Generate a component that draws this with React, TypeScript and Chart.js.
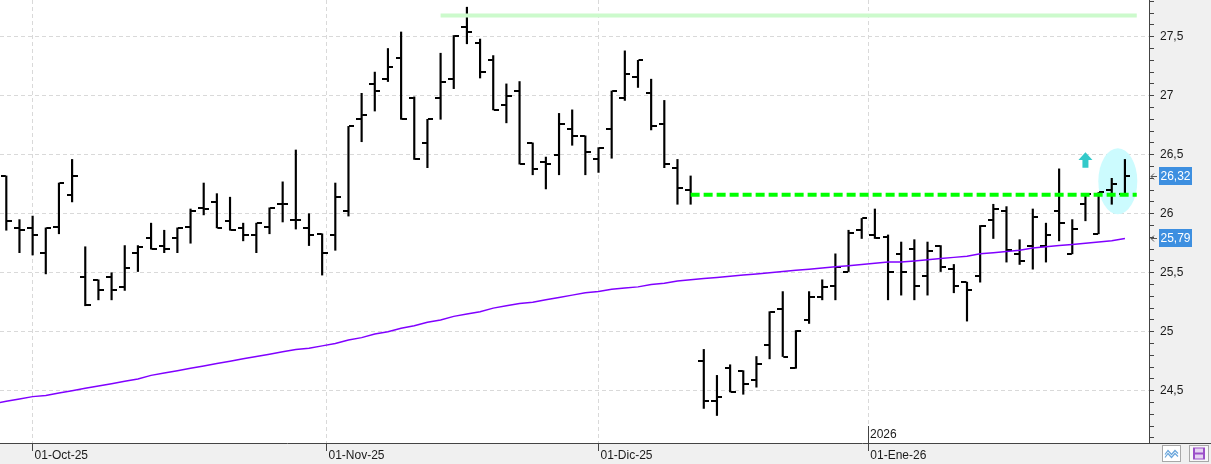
import React, { useEffect, useRef } from 'react';
import { Chart, registerables } from 'chart.js';

Chart.register(...registerables);

// ---- Data (bar index 0 = 29-Sep-25) ----
const opens = [26.32, 25.88, 25.88, 25.67, 25.89, 26.16, 25.46, 25.44, 25.46, 25.38,
  25.67, 25.79, 25.73, 25.79, 25.89, 26.05, 26.10, 25.94, 25.88, 25.82,
  25.89, 26.08, 25.95, 25.88, 25.83, 25.82, 26.02, 26.80, 27.10, 27.14,
  27.32, 26.98, 26.60, 26.98, 27.14, 27.58, 27.45, 27.30, 26.92, 27.04,
  26.60, 26.44, 26.50, 26.72, 26.66, 26.46, 26.72, 26.98, 27.16, 27.02,
  26.76, 26.39, 26.20, 24.75, 24.41, 24.69, 24.67, 24.59, 24.89, 25.19,
  24.69, 25.10, 25.29, 25.39, 25.51, 25.86, 25.82, 25.80, 25.66, 25.70,
  25.47, 25.73, 25.53, 25.42, 25.47, 25.95, 26.02, 25.66, 25.73, 25.73,
  26.02, 25.66, 26.08, 25.83, 26.20, 26.17];

const highs = [26.32, 25.95, 25.98, 25.88, 26.26, 26.46, 25.72, 25.44, 25.50, 25.73,
  25.73, 25.92, 25.86, 25.88, 26.04, 26.26, 26.17, 26.14, 25.92, 25.92,
  26.05, 26.27, 26.54, 26.00, 25.83, 26.26, 26.74, 27.02, 27.20, 27.40,
  27.54, 26.99, 26.80, 27.36, 27.51, 27.75, 27.48, 27.34, 27.10, 27.12,
  26.60, 26.48, 26.85, 26.88, 26.66, 26.56, 27.04, 27.38, 27.30, 27.14,
  26.96, 26.46, 26.32, 24.85, 24.63, 24.72, 24.67, 24.79, 25.17, 25.34,
  25.01, 25.34, 25.44, 25.66, 25.86, 25.96, 26.04, 25.82, 25.76, 25.78,
  25.76, 25.73, 25.57, 25.42, 25.90, 26.08, 26.06, 25.78, 26.04, 25.92,
  26.38, 25.95, 26.17, 26.18, 26.30, 26.46];

const lows = [25.86, 25.67, 25.65, 25.49, 25.83, 26.10, 25.22, 25.27, 25.27, 25.35,
  25.51, 25.70, 25.67, 25.67, 25.75, 25.99, 25.88, 25.86, 25.77, 25.67,
  25.83, 25.93, 25.87, 25.73, 25.48, 25.69, 25.98, 26.61, 26.87, 27.12,
  26.80, 26.46, 26.39, 26.80, 27.06, 27.44, 27.15, 26.88, 26.77, 26.42,
  26.33, 26.21, 26.33, 26.58, 26.33, 26.35, 26.47, 26.96, 27.07, 26.71,
  26.39, 26.08, 26.08, 24.35, 24.29, 24.49, 24.47, 24.53, 24.77, 24.79,
  24.69, 25.07, 25.27, 25.27, 25.51, 25.79, 25.79, 25.27, 25.31, 25.27,
  25.31, 25.51, 25.33, 25.09, 25.42, 25.79, 25.59, 25.57, 25.53, 25.59,
  25.77, 25.66, 25.94, 25.83, 26.08, 26.17];

const closes = [25.94, 25.86, 25.82, 25.88, 26.26, 26.32, 25.23, 25.35, 25.35, 25.54,
  25.72, 25.70, 25.70, 25.88, 26.02, 26.04, 25.88, 25.86, 25.82, 25.92,
  26.05, 26.08, 25.95, 25.82, 25.67, 26.14, 26.74, 26.84, 27.04, 27.24,
  26.80, 26.46, 26.80, 27.12, 27.51, 27.54, 27.20, 26.88, 27.00, 26.42,
  26.38, 26.42, 26.76, 26.66, 26.52, 26.56, 27.04, 27.18, 27.30, 26.74,
  26.42, 26.22, 26.16, 24.41, 24.45, 24.49, 24.56, 24.73, 25.17, 24.79,
  25.01, 25.29, 25.38, 25.55, 25.84, 25.96, 25.79, 25.51, 25.51, 25.39,
  25.68, 25.55, 25.39, 25.35, 25.90, 26.04, 25.69, 25.60, 25.97, 25.82,
  25.92, 25.87, 26.17, 26.18, 26.25, 26.32];

// moving average, first value belongs to bar index -1
const maValues = [24.39, 24.41, 24.43, 24.45, 24.46, 24.48, 24.50, 24.52, 24.54, 24.56, 24.58,
  24.60, 24.63, 24.65, 24.67, 24.69, 24.71, 24.73, 24.75, 24.77, 24.79,
  24.81, 24.83, 24.85, 24.86, 24.88, 24.90, 24.93, 24.95, 24.98, 25.00,
  25.03, 25.05, 25.08, 25.10, 25.13, 25.15, 25.17, 25.20, 25.22, 25.24,
  25.25, 25.27, 25.29, 25.31, 25.33, 25.34, 25.36, 25.37, 25.38, 25.40,
  25.41, 25.43, 25.44, 25.45, 25.46, 25.47, 25.48, 25.49, 25.50, 25.51,
  25.52, 25.53, 25.54, 25.55, 25.56, 25.57, 25.58, 25.59, 25.59, 25.60,
  25.61, 25.62, 25.63, 25.64, 25.66, 25.67, 25.68, 25.69, 25.71, 25.72,
  25.73, 25.74, 25.75, 25.76, 25.77, 25.79];

const monthTickPositions = [2, 24.33, 45, 65.5];
const monthTickLabels = ['01-Oct-25', '01-Nov-25', '01-Dic-25', '01-Ene-26'];
const yearMarkPositions = [65.5];
const yearMarkLabels = ['2026'];
const yMajorTicks = [24.5, 25, 25.5, 26, 26.5, 27, 27.5];

const levelValues = [27.68, 26.16];
const levelStarts = [33, 52];
const levelEnds = [85.9, 85.9];

const highlightBar = [84.46];
const highlightValue = [26.275];
const arrowBar = [82];
const arrowTipValue = [26.52];
const arrowBaseValue = [26.39];

// ---- axis ranges ----
const X_MIN = -0.479;
const X_MAX = 86.83;
const Y_MIN = 24.057;
const Y_MAX = 27.811;

const FONT = 'Liberation Sans, Arial, sans-serif';
const isMajor = (v: number) => yMajorTicks.some((m) => Math.abs(m - v) < 1e-6);
const fmt = (v: number) => String(v).replace('.', ',');
const fmt2 = (v: number) => v.toFixed(2).replace('.', ',');

const decor = {
  id: 'decor',
  beforeDraw(chart: any) {
    const { ctx, chartArea: a, width, height } = chart;
    ctx.save();
    ctx.fillStyle = '#f0f0f0';
    ctx.fillRect(0, 0, width, height);
    ctx.fillStyle = '#ffffff';
    ctx.fillRect(a.left, a.top, a.right - a.left, a.bottom - a.top);
    ctx.restore();
  },
  beforeDatasetsDraw(chart: any) {
    const { ctx, chartArea: a } = chart;
    const xs = chart.scales.x;
    const ys = chart.scales.y;
    ctx.save();
    ctx.beginPath();
    ctx.rect(a.left, a.top, a.right - a.left, a.bottom - a.top);
    ctx.clip();
    highlightBar.forEach((b, i) => {
      const cx = xs.getPixelForValue(b);
      const cy = ys.getPixelForValue(highlightValue[i]);
      const rx = Math.abs(xs.getPixelForValue(b + 1.48) - cx);
      const ry = Math.abs(ys.getPixelForValue(highlightValue[i] + 0.28) - cy);
      ctx.fillStyle = '#ccfbfe';
      ctx.beginPath();
      ctx.ellipse(cx, cy, rx, ry, 0, 0, Math.PI * 2);
      ctx.fill();
    });
    arrowBar.forEach((b, i) => {
      const x = xs.getPixelForValue(b);
      const tip = ys.getPixelForValue(arrowTipValue[i]);
      const base = ys.getPixelForValue(arrowBaseValue[i]);
      const mid = tip + (base - tip) * 0.5;
      ctx.fillStyle = '#33c9c9';
      ctx.beginPath();
      ctx.moveTo(x, tip);
      ctx.lineTo(x + 7, mid);
      ctx.lineTo(x + 3, mid);
      ctx.lineTo(x + 3, base);
      ctx.lineTo(x - 3, base);
      ctx.lineTo(x - 3, mid);
      ctx.lineTo(x - 7, mid);
      ctx.closePath();
      ctx.fill();
    });
    ctx.restore();
  },
  afterDraw(chart: any) {
    const { ctx, chartArea: a, width } = chart;
    const xs = chart.scales.x;
    const ys = chart.scales.y;
    ctx.save();
    ctx.strokeStyle = '#444';
    ctx.lineWidth = 1;
    ctx.beginPath();
    ctx.moveTo(a.right, Math.round(a.bottom) + 0.5);
    ctx.lineTo(width, Math.round(a.bottom) + 0.5);
    ctx.stroke();
    yearMarkPositions.forEach((p, i) => {
      const x = Math.round(xs.getPixelForValue(p)) + 0.5;
      ctx.strokeStyle = '#444';
      ctx.beginPath();
      ctx.moveTo(x, a.bottom - 17);
      ctx.lineTo(x, a.bottom);
      ctx.stroke();
      ctx.fillStyle = '#1a1a1a';
      ctx.font = '12px ' + FONT;
      ctx.textAlign = 'left';
      ctx.textBaseline = 'middle';
      ctx.fillText(yearMarkLabels[i], x + 1.5, a.bottom - 8.5);
    });
    const lastVals = [closes[closes.length - 1], maValues[maValues.length - 1]];
    lastVals.forEach((v) => {
      const y = ys.getPixelForValue(v);
      const bx = a.right + 10;
      ctx.fillStyle = '#3d8fe0';
      ctx.fillRect(bx, Math.round(y - 9), 33, 18);
      ctx.fillStyle = '#ffffff';
      ctx.font = '12px ' + FONT;
      ctx.textAlign = 'center';
      ctx.textBaseline = 'middle';
      ctx.fillText(fmt2(v), bx + 16.5, Math.round(y) + 0.5);
      ctx.strokeStyle = '#555';
      ctx.lineWidth = 1;
      const yy = Math.round(y) + 0.5;
      ctx.beginPath();
      ctx.moveTo(a.right + 8, yy);
      ctx.lineTo(a.right + 2, yy);
      ctx.moveTo(a.right + 5, yy - 3);
      ctx.lineTo(a.right + 2, yy);
      ctx.lineTo(a.right + 5, yy + 3);
      ctx.stroke();
    });
    const iy = a.bottom + 2.5;
    ctx.fillStyle = '#ffffff';
    ctx.strokeStyle = '#a8a8a8';
    ctx.fillRect(1162.5, iy, 18, 16);
    ctx.strokeRect(1162.5, iy, 18, 16);
    ctx.strokeStyle = '#6aa6dc';
    ctx.lineWidth = 1.2;
    ctx.beginPath();
    ctx.moveTo(1165, iy + 9); ctx.lineTo(1168, iy + 5); ctx.lineTo(1171.5, iy + 9); ctx.lineTo(1175, iy + 5); ctx.lineTo(1178, iy + 8);
    ctx.moveTo(1165, iy + 12); ctx.lineTo(1168, iy + 8); ctx.lineTo(1171.5, iy + 12); ctx.lineTo(1175, iy + 8); ctx.lineTo(1178, iy + 11);
    ctx.stroke();
    ctx.lineWidth = 1;
    ctx.fillStyle = '#f7f7f7';
    ctx.strokeStyle = '#a8a8a8';
    ctx.fillRect(1189.5, iy, 19, 16);
    ctx.strokeRect(1189.5, iy, 19, 16);
    ctx.fillStyle = '#9b4fc9';
    ctx.fillRect(1193, iy + 2, 12, 12);
    ctx.fillStyle = '#e6d3f2';
    ctx.fillRect(1195, iy + 3, 8, 4);
    ctx.fillRect(1195, iy + 9, 8, 4);
    ctx.restore();
  },
};

export default function App() {
  const ref = useRef<HTMLCanvasElement | null>(null);
  useEffect(() => {
    if (!ref.current) return;
    const mkTick = (left: boolean) => {
      const c = document.createElement('canvas');
      c.width = 11;
      c.height = 2;
      const g = c.getContext('2d')!;
      g.fillStyle = '#000';
      g.fillRect(left ? 0 : 6, 0, 5, 2);
      return c;
    };
    const openImg = mkTick(true);
    const closeImg = mkTick(false);
    const yTicks = Array.from({ length: 38 }, (_, k) => Math.round((24.1 + k * 0.1) * 10) / 10);

    const chart = new Chart(ref.current, {
      type: 'line',
      data: {
        datasets: [
          ...levelValues.map((v, i) => ({
            type: 'line' as const,
            data: [{ x: levelStarts[i], y: v }, { x: levelEnds[i], y: v }],
            borderColor: i === 0 ? '#ccfacc' : '#00ff00',
            borderWidth: 4,
            borderDash: i === 0 ? [] : [9, 4],
            borderCapStyle: 'butt' as const,
            pointRadius: 0,
            order: 0,
          })),
          {
            type: 'line' as const,
            data: maValues.map((v, i) => ({ x: i - 1, y: v })),
            borderColor: '#8000ff',
            borderWidth: 1.5,
            pointRadius: 0,
            tension: 0,
            order: 1,
          },
          {
            type: 'line' as const,
            data: closes.map((v, i) => ({ x: i, y: v })),
            showLine: false,
            pointStyle: closeImg as any,
            pointRadius: 4,
            order: 2,
          },
          {
            type: 'line' as const,
            data: opens.map((v, i) => ({ x: i, y: v })),
            showLine: false,
            pointStyle: openImg as any,
            pointRadius: 4,
            order: 3,
          },
          {
            type: 'bar' as const,
            data: highs.map((h, i) => ({ x: i, y: [lows[i], h] })) as any,
            backgroundColor: '#000000',
            barThickness: 1.5,
            grouped: false,
            order: 4,
          } as any,
        ],
      },
      options: {
        responsive: false,
        animation: false,
        events: [],
        layout: { padding: 0, autoPadding: false },
        plugins: { legend: { display: false }, tooltip: { enabled: false } },
        scales: {
          x: {
            type: 'linear',
            position: 'bottom',
            offset: false,
            min: X_MIN,
            max: X_MAX,
            afterBuildTicks: (s: any) => {
              s.ticks = monthTickPositions.map((v) => ({ value: v }));
            },
            afterFit: (s: any) => {
              s.height = 21;
              s.paddingLeft = 0;
              s.paddingRight = 0;
            },
            ticks: {
              autoSkip: false,
              maxRotation: 0,
              minRotation: 0,
              align: 'start',
              labelOffset: 2,
              padding: -3,
              color: '#1a1a1a',
              font: { family: FONT, size: 12 },
              callback: (_v: any, i: number) => monthTickLabels[i],
            },
            grid: {
              offset: false,
              color: '#d9d9d9',
              lineWidth: 1,
              tickLength: 8,
              tickColor: '#444',
              tickBorderDash: [],
            },
            border: { display: true, color: '#444', width: 1, dash: [4, 3] },
          },
          y: {
            type: 'linear',
            position: 'right',
            beginAtZero: false,
            min: Y_MIN,
            max: Y_MAX,
            afterBuildTicks: (s: any) => {
              s.ticks = yTicks.map((v) => ({ value: v }));
            },
            afterFit: (s: any) => {
              s.width = 62;
              s.paddingTop = 0;
              s.paddingBottom = 0;
            },
            ticks: {
              autoSkip: false,
              padding: 6,
              color: '#1a1a1a',
              font: { family: FONT, size: 12 },
              callback: (v: any) => (isMajor(Number(v)) ? fmt(Number(v)) : ''),
            },
            grid: {
              color: (c: any) => (c.tick && isMajor(c.tick.value) ? '#d9d9d9' : 'rgba(0,0,0,0)'),
              lineWidth: 1,
              tickLength: 5,
              tickColor: '#444',
              tickBorderDash: [],
            },
            border: { display: true, color: '#444', width: 1, dash: [4, 3] },
          },
        },
      } as any,
      plugins: [decor],
    });
    return () => chart.destroy();
  }, []);

  return (
    <div style={{ position: 'absolute', left: 0, top: 0, width: 1211, height: 464 }}>
      <canvas ref={ref} width={1211} height={464} style={{ display: 'block' }} />
    </div>
  );
}
